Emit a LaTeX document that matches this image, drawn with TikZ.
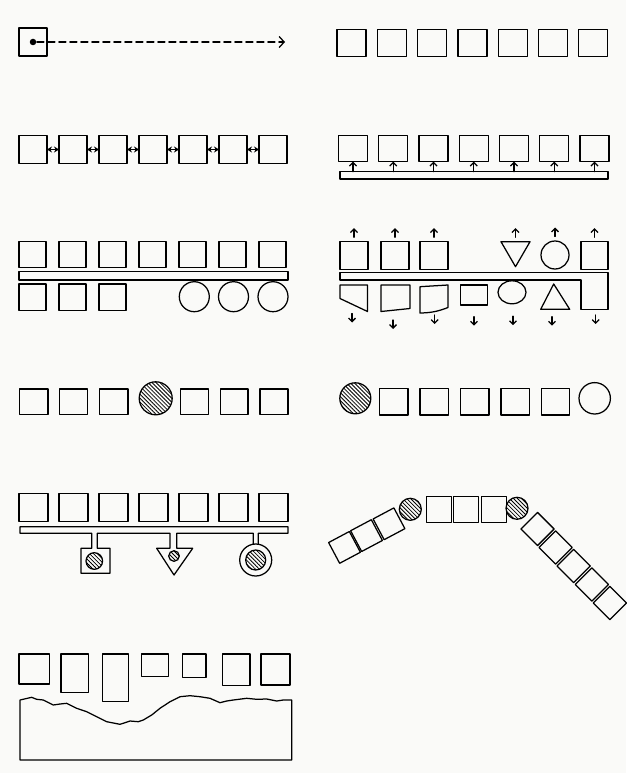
\documentclass[tikz,border=0pt]{standalone}
\usetikzlibrary{arrows.meta,patterns.meta,shapes.geometric}
\begin{document}
\begin{tikzpicture}[x=1pt,y=-1pt,line width=1.25pt,line join=round,line cap=round,
  bx/.style={draw,rectangle,inner sep=0pt,outer sep=0pt,minimum width=28pt,minimum height=27pt},
  ring/.style={draw,circle,inner sep=0pt,outer sep=0pt},
  hatch/.style={ring,pattern={Lines[angle=-45,distance=2.8pt,line width=0.8pt]}},
  tip/.style={-{Straight Barb[length=3.5pt,width=7pt]}},
  dbl/.style={{Stealth[length=5pt,width=6pt]}-{Stealth[length=5pt,width=6pt]}},
  tbx/.style={bx,anchor=north west}]
\path[use as bounding box,fill={rgb,255:red,250;green,250;blue,248}] (0,0) rectangle (626,773);

% ---- panel 1
\node[bx,minimum width=28pt,minimum height=28pt] (a0) at (33,42) {};
\node[circle,fill,inner sep=0pt,minimum size=6.5pt] (a1) at (33,42) {};
\coordinate (a2) at (285,42);
\draw[dash pattern=on 7pt off 4pt,-{Straight Barb[length=5pt,width=11pt]}] (a1) -- (a2);

% ---- panel 2
\foreach \i in {0,...,6}
  \node[bx,minimum width=29pt,minimum height=27.5pt] (b\i) at ({351.5+40.3*\i},43) {};

% ---- panel 3
\foreach \i in {0,...,6}
  \node[bx,minimum width=28pt,minimum height=28pt] (c\i) at ({33+40*\i},149.5) {};
\foreach \i [evaluate=\i as \j using int(\i+1)] in {0,...,5}
  \draw[dbl] (c\i) -- (c\j);

% ---- panel 4
\foreach \i in {0,...,6}
  \node[bx,minimum width=29pt,minimum height=26pt] (d\i) at ({353+40.25*\i},148.7) {};
\node[draw,inner sep=0pt,outer sep=0pt,minimum width=268pt,minimum height=7.3pt] (dbar) at (474,175.3) {};
\foreach \i in {0,...,6}
  \draw[tip] (d\i.south |- dbar.north) -- (d\i.south);

% ---- panel 5
\foreach \i in {0,...,6}
  \node[bx,minimum width=27pt,minimum height=26pt] (e\i) at ({32.5+40*\i},254.7) {};
\node[draw,inner sep=0pt,outer sep=0pt,minimum width=269pt,minimum height=8.3pt] (ebar) at (153.5,275.8) {};
\foreach \i in {0,1,2}
  \node[bx,minimum width=27pt,minimum height=26.7pt] (f\i) at ({32.5+40*\i},297.3) {};
\node[ring,minimum size=30pt] (f3) at (194.3,296.7) {};
\node[ring,minimum size=30pt] (f4) at (233.5,296.7) {};
\node[ring,minimum size=30pt] (f5) at (273,296.7) {};

% ---- panel 6
\node[bx,minimum width=28pt,minimum height=27.6pt] (g0) at (354,255.5) {};
\node[bx,minimum width=28pt,minimum height=27.6pt] (g1) at (395,255.5) {};
\node[bx,minimum width=28pt,minimum height=27.6pt] (g2) at (434,255.5) {};
\coordinate (g4) at (515.5,241.7);
\draw (501,241.7) -- (530,241.7) -- (515.5,266.7) -- cycle;
\node[ring,minimum size=28pt] (g5) at (555,255) {};
\node[bx,minimum width=27pt,minimum height=27.6pt] (g6) at (594.5,255.5) {};
\foreach \n in {g0,g1,g2,g4,g6}
  \draw[tip] (\n.north) ++(0,-4.5) -- ++(0,-9);
\draw[tip] (g5.north) ++(0,-4.5) -- ++(0,-9);
% bar merged with last lower shape
\draw (340,272.7) -- (608,272.7) -- (608,309.3) -- (581,309.3) -- (581,280) -- (340,280) -- cycle;
% lower shapes
\draw (340,285) -- (367.5,285) -- (367.5,311.5) -- (340,298.5) -- cycle;
\draw (381,285) -- (410,285) -- (410,308.5) -- (381,311.5) -- cycle;
\draw (420,286.7) -- (448,285) -- (448,307.5) to[bend left=10] (420,313) -- cycle;
\node[bx,minimum width=26.6pt,minimum height=20pt] (h4) at (474,295) {};
\node[draw,ellipse,inner sep=0pt,outer sep=0pt,minimum width=28pt,minimum height=23pt] (h5) at (512,292.3) {};
\draw (553.7,284) -- (569.7,309.3) -- (540.7,309.3) -- cycle;
\coordinate (k1) at (352,313.5);
\coordinate (k2) at (393,320);
\coordinate (k3) at (434.7,315);
\coordinate (k4) at (474,316.7);
\coordinate (k5) at (513,316.2);
\coordinate (k6) at (552,316.7);
\coordinate (k7) at (595.7,315);
\foreach \n in {k1,k2,k3,k4,k5,k6,k7}
  \draw[tip] (\n) -- ++(0,9);

% ---- panel 7
\node[bx,minimum width=28.5pt,minimum height=25.5pt] (i0) at (33.7,401.7) {};
\node[bx,minimum width=28pt,minimum height=25.5pt] (i1) at (73.3,401.7) {};
\node[bx,minimum width=28.5pt,minimum height=25.5pt] (i2) at (113.8,401.7) {};
\node[hatch,minimum size=33pt] (i3) at (155.7,398.3) {};
\node[bx,minimum width=27.5pt,minimum height=25.5pt] (i4) at (194.5,401.7) {};
\node[bx,minimum width=27.5pt,minimum height=25.5pt] (i5) at (234.3,401.7) {};
\node[bx,minimum width=28pt,minimum height=25.5pt] (i6) at (274,401.7) {};

% ---- panel 8
\node[hatch,minimum size=31pt] (j0) at (355.3,398.3) {};
\foreach \i/\x in {1/393.8,2/434.2,3/474.8,4/515.3,5/555.5}
  \node[bx,minimum width=28.5pt,minimum height=26.7pt] (j\i) at (\x,401.7) {};
\node[ring,minimum size=31.4pt] (j6) at (594.7,398.3) {};

% ---- panel 9
\foreach \i in {0,...,6}
  \node[bx,minimum width=29pt,minimum height=28pt] (m\i) at ({33.5+40*\i},507.5) {};
\draw (253.3,544.2) -- (253.3,533.3) -- (176.7,533.3) -- (176.7,548.3) -- (192.7,548.3)
  -- (174,575) -- (156.7,548.3) -- (170,548.3) -- (170,533.3) -- (97.3,533.3)
  -- (97.3,548.3) -- (110,548.3) -- (110,573.3) -- (81,573.3) -- (81,548.3)
  -- (91.7,548.3) -- (91.7,533.3) -- (20,533.3) -- (20,526.7) -- (288,526.7)
  -- (288,533.3) -- (258.3,533.3) -- (258.3,544.2);
\node[hatch,minimum size=16.6pt] (n1) at (94.3,561) {};
\node[hatch,minimum size=10.6pt] (n2) at (174,556) {};
\node[ring,minimum size=32pt] (n3) at (255.7,560) {};
\node[hatch,minimum size=20pt] (n4) at (255.7,560) {};

% ---- panel 10
\node[hatch,minimum size=22pt] (p0) at (410.3,509.3) {};
\node[bx,minimum width=25pt,minimum height=25.6pt] (p1) at (438.8,509.5) {};
\node[bx,minimum width=25pt,minimum height=25.6pt] (p2) at (466.2,509.5) {};
\node[bx,minimum width=25pt,minimum height=25.6pt] (p3) at (493.8,509.5) {};
\node[hatch,minimum size=22pt] (p4) at (517,508.3) {};
\node[bx,minimum width=23.5pt,minimum height=23.5pt,rotate=28] (q1) at (389,523.8) {};
\node[bx,minimum width=23.5pt,minimum height=23.5pt,rotate=28] (q2) at (366.5,535.6) {};
\node[bx,minimum width=23.5pt,minimum height=23.5pt,rotate=28] (q3) at (344.5,547.4) {};
\foreach \i in {0,...,4}
  \node[bx,minimum width=23.5pt,minimum height=23.5pt,rotate=-45] (r\i) at ({537.5+18.1*\i},{529+18.5*\i}) {};

% ---- panel 11
\node[tbx,minimum width=30.3pt,minimum height=30pt] (s1) at (19,654) {};
\node[tbx,minimum width=27.3pt,minimum height=38.3pt] (s2) at (61,654) {};
\node[tbx,minimum width=26pt,minimum height=47.7pt] (s3) at (102.3,654) {};
\node[tbx,minimum width=26.6pt,minimum height=22.7pt] (s4) at (141.7,654) {};
\node[tbx,minimum width=23.7pt,minimum height=23.3pt] (s5) at (182.3,654) {};
\node[tbx,minimum width=27.7pt,minimum height=31.7pt] (s6) at (222.3,654) {};
\node[tbx,minimum width=29pt,minimum height=31pt] (s7) at (261,654) {};
\draw (20,700) -- (31.7,697.3) -- (36.7,699.3) -- (43.3,700) -- (53.3,705) -- (60,704)
  -- (66.7,703.3) -- (76.7,708.3) -- (86.7,711.7) -- (96.7,716.7) -- (106.7,721.7)
  -- (120,724.3) -- (125,722.7) -- (130,721) -- (138.3,721.7) -- (143.3,720)
  -- (151.7,715) -- (160,708.3) -- (170,701.7) -- (180,696.7) -- (190,695.7)
  -- (200,696.7) -- (210,698.3) -- (220,702.7) -- (226.7,701) -- (233.3,700)
  -- (246.7,698.3) -- (256.7,699.3) -- (266.7,699) -- (276.7,701) -- (283.3,700)
  -- (291.7,700) -- (291.7,760) -- (20,760) -- cycle;
\end{tikzpicture}
\end{document}
